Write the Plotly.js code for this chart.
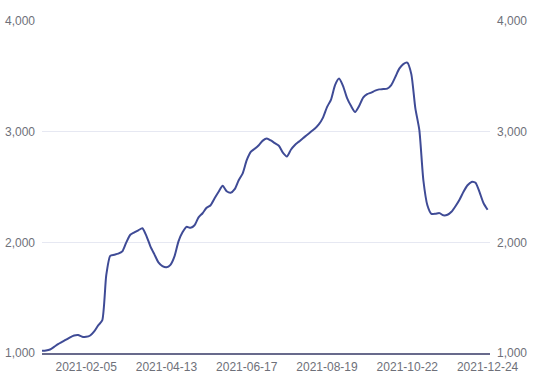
<!DOCTYPE html>
<html>
<head>
<meta charset="utf-8">
<script src="https://cdn.plot.ly/plotly-3.0.1.min.js"></script>
<style>html,body{margin:0;padding:0;background:#fff;}#chart{width:537px;height:381px;}</style>
</head>
<body>
<div id="chart"></div>
<script>
const dates = [
"2021-01-01","2021-01-04","2021-01-07","2021-01-11","2021-01-14","2021-01-18","2021-01-21","2021-01-25","2021-01-28","2021-02-01","2021-02-03","2021-02-05",
"2021-02-08","2021-02-11","2021-02-15","2021-02-18","2021-02-22","2021-02-25","2021-03-01","2021-03-04","2021-03-08","2021-03-11",
"2021-03-15","2021-03-18","2021-03-22","2021-03-25","2021-03-29","2021-04-01","2021-04-05","2021-04-07","2021-04-09","2021-04-13",
"2021-04-15","2021-04-19","2021-04-22","2021-04-26","2021-04-29","2021-05-03","2021-05-06","2021-05-10","2021-05-13","2021-05-17",
"2021-05-20","2021-05-24","2021-05-27","2021-05-31","2021-06-03","2021-06-07","2021-06-09","2021-06-11","2021-06-15","2021-06-17",
"2021-06-21","2021-06-24","2021-06-28","2021-07-01","2021-07-05","2021-07-08","2021-07-12","2021-07-15","2021-07-19","2021-07-22",
"2021-07-26","2021-07-29","2021-08-02","2021-08-05","2021-08-09","2021-08-11","2021-08-13","2021-08-16","2021-08-17","2021-08-19",
"2021-08-23","2021-08-26","2021-08-30","2021-09-02","2021-09-06","2021-09-09","2021-09-13","2021-09-16","2021-09-20","2021-09-23",
"2021-09-27","2021-09-30","2021-10-04","2021-10-07","2021-10-11","2021-10-13","2021-10-15","2021-10-18","2021-10-20","2021-10-22",
"2021-10-25","2021-10-28","2021-11-01","2021-11-04","2021-11-08","2021-11-11","2021-11-15","2021-11-18","2021-11-22","2021-11-25",
"2021-11-29","2021-12-02","2021-12-06","2021-12-09","2021-12-13","2021-12-15","2021-12-17","2021-12-20","2021-12-22","2021-12-24"
];
const values = [
1020,1023,1032,1055,1080,1100,1120,1142,1158,1162,1147,1146,
1158,1195,1250,1294,1701,1878,1888,1898,1918,2000,
2068,2089,2109,2127,2059,1964,1891,1819,1785,1774,
1796,1873,2009,2090,2140,2131,2154,2226,2263,2312,
2335,2398,2457,2511,2462,2448,2480,2561,2624,2742,
2817,2846,2878,2919,2938,2921,2896,2873,2810,2776,
2837,2880,2910,2941,2970,3000,3029,3068,3127,3222,
3290,3421,3480,3412,3303,3231,3177,3231,3308,3339,
3353,3371,3382,3385,3389,3421,3493,3570,3611,3624,
3520,3213,3014,2561,2335,2258,2258,2264,2244,2249,
2276,2326,2385,2457,2516,2546,2539,2453,2353,2294
];
const tickDates = ["2021-02-05","2021-04-13","2021-06-17","2021-08-19","2021-10-22","2021-12-24"];
const yTicks = [1000,2000,3000,4000];

const tickFont = {family:"Liberation Sans, Arial, sans-serif", size:12, color:"#6e7079"};
const traces = [
  {x:dates, y:values, type:"scatter", mode:"lines", line:{color:"#3f4b96", width:2, shape:"spline", smoothing:0.6}, hoverinfo:"x+y", yaxis:"y"},
  {x:dates, y:values, type:"scatter", mode:"lines", line:{color:"rgba(0,0,0,0)", width:0}, hoverinfo:"skip", yaxis:"y2", showlegend:false}
];
const layout = {
  width:537, height:381,
  margin:{l:42, r:47, t:21, b:28, pad:0},
  paper_bgcolor:"#fff", plot_bgcolor:"#fff",
  showlegend:false,
  xaxis:{type:"category", range:[0,111.6], tickmode:"array", tickvals:tickDates, ticktext:tickDates,
         showgrid:false, zeroline:false, showline:true, linecolor:"#686a8c", linewidth:2,
         ticks:"", tickfont:tickFont, ticklabelstandoff:2, fixedrange:true},
  yaxis:{range:[1000,4000], tickmode:"array", tickvals:yTicks, tickformat:",d",
         showgrid:true, gridcolor:"#e6e8f2", gridwidth:1, zeroline:false, showline:false,
         ticks:"", tickfont:tickFont, ticklabelstandoff:6, fixedrange:true},
  yaxis2:{range:[1000,4000], overlaying:"y", side:"right", tickmode:"array", tickvals:yTicks, tickformat:",d",
         showgrid:false, zeroline:false, showline:false, ticks:"", tickfont:tickFont, ticklabelstandoff:6, fixedrange:true}
};
Plotly.newPlot("chart", traces, layout, {displayModeBar:false, staticPlot:true});
</script>
</body>
</html>
